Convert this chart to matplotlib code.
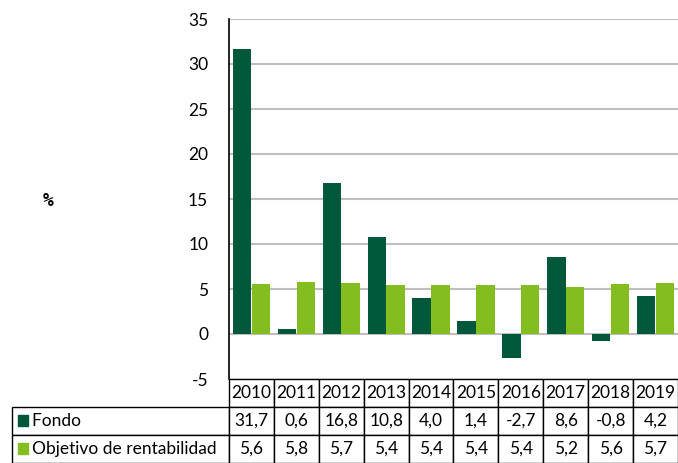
import numpy as np
import matplotlib
from matplotlib import pyplot as plt
from matplotlib.table import Table

matplotlib.use('Agg')
plt.rcParams['font.family'] = ['Lato', 'DejaVu Sans']
plt.rcParams['axes.unicode_minus'] = False

years = ['2010', '2011', '2012', '2013', '2014', '2015', '2016', '2017', '2018', '2019']
fondo = [31.7, 0.6, 16.8, 10.8, 4.0, 1.4, -2.7, 8.6, -0.8, 4.2]
objetivo = [5.6, 5.8, 5.7, 5.4, 5.4, 5.4, 5.4, 5.2, 5.6, 5.7]
series_names = ['Fondo', 'Objetivo de rentabilidad']

dark = '#00583A'
light = '#84BD1F'

W, H = 678, 463
fig = plt.figure(figsize=(W / 100, H / 100), dpi=100)
ax = fig.add_axes([229 / W, 1 - 379 / H, 449 / W, 360 / H])

x = np.arange(len(years))
ax.bar(x - 0.21, fondo, width=0.41, color=dark, zorder=3)
ax.bar(x + 0.21, objetivo, width=0.41, color=light, zorder=3)

ax.set_xlim(-0.5, len(years) - 0.5)
ax.set_ylim(-5, 35)
ax.set_yticks(range(-5, 40, 5))
ax.tick_params(axis='y', length=0, labelsize=12.5, pad=15)
ax.tick_params(axis='x', length=0, labelbottom=False)
ax.grid(axis='y', color='#BFBFBF', lw=1.5, zorder=0)
for s in ['top', 'right', 'bottom']:
    ax.spines[s].set_visible(False)
ax.spines['left'].set_color('black')
ax.spines['left'].set_linewidth(1.2)

fig.text(48 / W, 1 - 201 / H, '%', fontsize=13, fontweight='bold', ha='center', va='center',
         family='DejaVu Sans Mono')

# data table under the chart
label_w = 217 / 449
col_w = 1.0 / len(years)
row_h = 28 / 360
tbl = Table(ax, bbox=[-label_w, -3 * row_h, label_w + 1.0, 3 * row_h])
for j, yr in enumerate(years):
    c = tbl.add_cell(0, j + 1, width=col_w, height=row_h, text=yr, loc='center')
    c.set_linewidth(1.0)
c = tbl.add_cell(0, 0, width=label_w, height=row_h, text='')
c.set_linewidth(0)
for i, (name, vals) in enumerate([(series_names[0], fondo), (series_names[1], objetivo)]):
    c = tbl.add_cell(i + 1, 0, width=label_w, height=row_h, text='    ' + name, loc='left')
    c.PAD = 0.01
    for j, v in enumerate(vals):
        tbl.add_cell(i + 1, j + 1, width=col_w, height=row_h,
                     text=f'{v:.1f}'.replace('.', ','), loc='center')
tbl.auto_set_font_size(False)
tbl.set_fontsize(12.5)
ax.add_table(tbl)

# legend squares in the row labels
for i, col in enumerate([dark, light]):
    yc = -(i + 1.5) * row_h
    ax.add_patch(plt.Rectangle((-label_w + 0.013, yc - 0.014), 0.022, 0.03,
                               transform=ax.transAxes, color=col, clip_on=False))

fig.savefig('out.png', dpi=100)
